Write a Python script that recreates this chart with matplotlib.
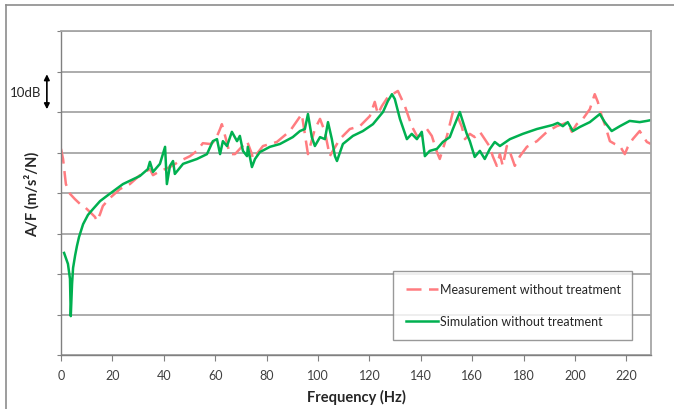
import matplotlib
matplotlib.use("Agg")
import matplotlib.pyplot as plt
from matplotlib.lines import Line2D

plt.rcParams['font.family'] = ['Lato', 'DejaVu Sans']

# Measurement without treatment (Hz, dB)
meas_f = [0, 0.8, 1.9, 3.5, 5.4, 7.4, 9.3, 11.3, 13.2, 14.0, 15.2, 16.3, 19.1, 23.0, 26.8,
          30.7, 34.6, 35.8, 38.5, 42.4, 46.3, 50.2, 52.9, 55.2, 58.0, 59.9, 61.9, 62.6, 64.2,
          65.7, 67.7, 69.6, 72.4, 74.3, 74.7, 78.6, 84.0, 89.1, 93.7, 96.1, 98.8, 100.8, 102.7,
          104.6, 108.5, 112.4, 116.3, 120.2, 122.1, 123.3, 124.9, 127.2, 131.1, 133.8, 136.5,
          138.5, 140.4, 142.4, 144.3, 146.3, 147.4, 150.2, 152.5, 153.3, 154.4, 156.0, 157.2,
          159.1, 161.0, 163.0, 164.9, 166.9, 168.0, 169.6, 170.8, 171.9, 173.5, 174.7, 176.6,
          178.6, 181.3, 185.2, 189.1, 192.9, 195.3, 197.2, 198.8, 200.7, 203.1, 205.8, 207.7,
          208.9, 210.4, 211.6, 213.6, 215.5, 217.5, 219.4, 220.6, 222.5, 225.2, 226.4, 228.0,
          229.6]
meas_db = [50.9, 48.4, 42.2, 39.8, 38.5, 37.3, 36.5, 35.3, 34.1, 33.1, 34.8, 36.8, 38.8, 41.0,
           42.2, 44.4, 45.9, 44.4, 45.4, 46.4, 47.9, 49.1, 50.4, 52.3, 52.1, 52.8, 55.8, 57.0,
           53.3, 49.6, 49.6, 50.9, 52.8, 49.6, 48.4, 51.6, 52.6, 55.3, 59.5, 49.6, 55.8, 58.3,
           55.1, 49.1, 53.3, 55.8, 56.5, 59.0, 62.5, 59.5, 61.5, 63.7, 65.2, 61.5, 56.5, 54.1,
           54.1, 55.8, 54.1, 50.1, 48.4, 54.1, 60.0, 60.2, 58.8, 56.3, 53.3, 54.6, 53.8, 55.1,
           53.3, 51.4, 49.1, 46.7, 49.6, 46.7, 51.6, 50.1, 46.7, 49.1, 51.4, 52.8, 55.1, 56.5,
           57.0, 57.5, 55.1, 57.0, 58.3, 60.7, 64.4, 62.5, 59.0, 57.0, 52.8, 52.1, 51.6, 49.6,
           51.4, 53.3, 55.3, 54.1, 52.6, 52.1]

# Simulation without treatment (Hz, dB)
sim_f = [1.2, 2.7, 3.5, 3.8, 4.3, 4.7, 5.5, 6.2, 7.0, 8.6, 10.5, 12.4, 15.2, 17.9, 24.1, 30.7,
         33.8, 34.6, 35.8, 38.5, 40.5, 41.2, 42.4, 43.6, 44.3, 47.5, 52.9, 56.8, 59.1, 60.7,
         61.9, 63.0, 64.6, 66.5, 68.5, 69.6, 70.8, 72.4, 72.7, 74.3, 75.5, 77.4, 81.3, 85.2,
         90.2, 93.0, 94.9, 96.1, 97.6, 98.8, 100.8, 102.7, 103.9, 105.4, 106.6, 107.4, 109.7,
         113.6, 117.5, 121.4, 125.3, 127.2, 128.8, 129.9, 131.9, 134.6, 136.5, 138.5, 140.4,
         141.6, 143.5, 146.3, 148.6, 151.3, 152.5, 155.2, 157.9, 159.1, 161.0, 163.0, 164.9,
         166.9, 168.8, 170.8, 174.7, 179.7, 185.2, 191.4, 193.3, 195.3, 197.2, 199.2, 201.9,
         205.8, 209.7, 211.6, 214.3, 217.5, 221.3, 225.2, 228.0, 229.6]
sim_db = [25.2, 22.5, 18.8, 9.6, 17.5, 21.5, 24.6, 26.9, 29.1, 32.3, 34.6, 36.0, 38.0, 39.3,
          42.2, 44.2, 45.9, 47.7, 45.2, 47.2, 51.4, 42.2, 46.7, 47.9, 44.7, 47.2, 48.4, 49.6,
          52.8, 53.3, 49.6, 52.8, 51.6, 55.1, 52.8, 54.1, 50.4, 49.1, 51.4, 46.4, 48.4, 50.1,
          51.4, 52.1, 53.8, 55.3, 55.8, 59.5, 53.8, 51.6, 53.8, 53.3, 57.5, 53.3, 49.1, 47.9,
          52.1, 54.1, 55.3, 57.0, 60.0, 62.7, 64.4, 63.2, 58.3, 53.3, 54.6, 53.3, 55.1, 49.1,
          50.4, 50.9, 52.6, 53.8, 55.8, 60.0, 54.6, 52.8, 48.9, 50.4, 48.4, 50.9, 52.6, 51.6,
          53.3, 54.6, 55.8, 56.8, 57.3, 56.5, 57.5, 55.3, 56.3, 57.5, 59.5, 57.5, 55.3, 56.5,
          57.8, 57.5, 57.8, 58.0]

x_ticks = [0, 20, 40, 60, 80, 100, 120, 140, 160, 180, 200, 220]
labels = ["Measurement without treatment", "Simulation without treatment"]

W, H = 674, 410
fig = plt.figure(figsize=(W / 100, H / 100), dpi=100)
ax = fig.add_axes([61 / W, 1 - 356 / H, (651 - 61) / W, (356 - 32) / H])

grid_c = '#A6A6A6'
ax.set_xlim(0, 229.6)
ax.set_ylim(0, 80)
ax.set_yticks(range(0, 81, 10))
ax.set_yticklabels([])
ax.set_xticks(x_ticks)
ax.set_xticklabels([str(t) for t in x_ticks], fontsize=9, color='#404040')
ax.grid(axis='y', color=grid_c, linewidth=1.3)
ax.set_axisbelow(True)
ax.tick_params(axis='x', direction='out', length=4, color='#808080', pad=6)
ax.tick_params(axis='y', direction='out', length=3, color='#808080')
for s in ['top', 'right']:
    ax.spines[s].set_color(grid_c)
    ax.spines[s].set_linewidth(1.3)
for s in ['left', 'bottom']:
    ax.spines[s].set_color('#808080')
    ax.spines[s].set_linewidth(1.0)

ax.plot(meas_f, meas_db, color='#FF7C80', linewidth=1.8, dashes=(6, 3), label=labels[0])
ax.plot(sim_f, sim_db, color='#00B050', linewidth=1.8, label=labels[1])

ax.set_xlabel('Frequency (Hz)', fontsize=10.5, fontweight='bold', color='#262626', labelpad=6)
ax.set_ylabel('A/F (m/s²/N)', fontsize=10.5, fontweight='bold', color='#262626', labelpad=9)

leg = ax.legend(loc='lower left', bbox_to_anchor=((393 - 61) / 590, (356 - 341) / 324,
                (632 - 393) / 590, (341 - 264) / 324), mode='expand',
                fontsize=9, frameon=True, fancybox=False, handlelength=2.6,
                labelspacing=1.6, borderpad=1.0, handletextpad=0.2, borderaxespad=0)
leg.get_frame().set_edgecolor('#808080')
leg.get_frame().set_linewidth(1.0)
for t in leg.get_texts():
    t.set_color('#262626')

# 10dB scale annotation
ax.annotate('', xy=(-5.5, 60), xytext=(-5.5, 70), xycoords='data', textcoords='data',
            arrowprops=dict(arrowstyle='<|-|>', color='black', lw=1.2, mutation_scale=8),
            annotation_clip=False)
ax.text(-7.5, 65, '10dB', ha='right', va='center', fontsize=9.5, color='#262626', clip_on=False)

# chart frame
fig.add_artist(Line2D([6 / W, 6 / W], [0, 1 - 6 / H], transform=fig.transFigure,
                      color='#8C8C8C', linewidth=1.2))
fig.add_artist(Line2D([6 / W, 1], [1 - 6 / H, 1 - 6 / H], transform=fig.transFigure,
                      color='#8C8C8C', linewidth=1.2))

fig.savefig('out.png', dpi=100)
